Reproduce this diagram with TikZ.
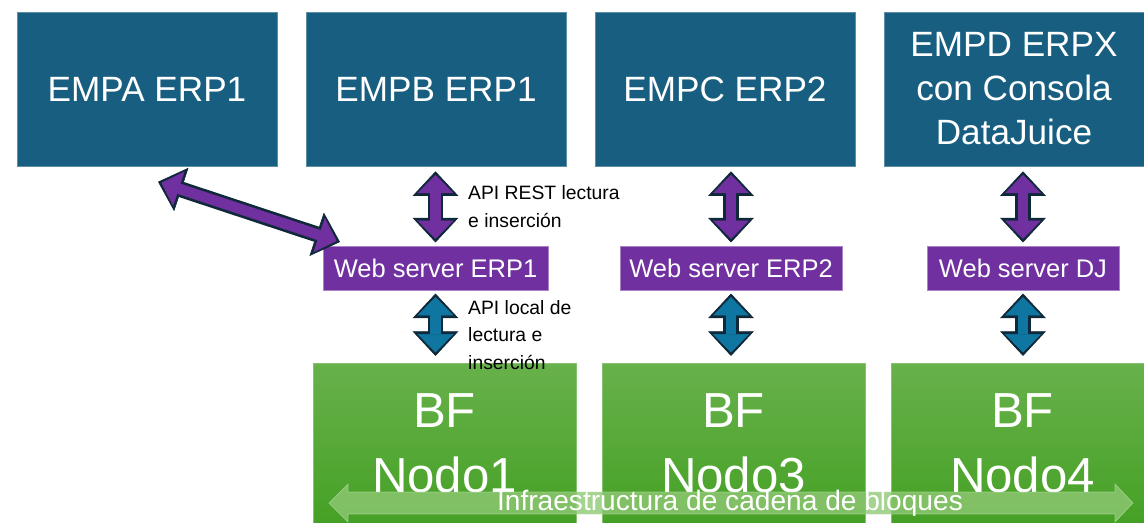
\documentclass[tikz,border=0pt]{standalone}
\usepackage{fontspec}
\setmainfont{Liberation Sans}
\usetikzlibrary{arrows.meta, positioning, calc}

\definecolor{erpblue}{HTML}{175E80}
\definecolor{wspurple}{HTML}{7030A0}
\definecolor{apiblue}{HTML}{0E76A0}
\definecolor{edgedark}{HTML}{10293A}
\definecolor{bftop}{HTML}{68B14B}
\definecolor{bfbot}{HTML}{45A125}
\definecolor{chainfill}{HTML}{8FC874}

\begin{document}
\begin{tikzpicture}[
    erp/.style={rectangle, fill=erpblue, draw=erpblue!70!white, text=white, minimum width=5.2cm, minimum height=3.08cm, align=center, font=\fontsize{20}{25}\selectfont, outer sep=3pt},
    web/.style={rectangle, fill=wspurple, draw=wspurple!60!white, text=white, minimum height=0.88cm, font=\fontsize{14.5}{17}\selectfont, outer sep=2pt},
    bf/.style={rectangle, top color=bftop, bottom color=bfbot, draw=bftop!80!white, text=white, minimum width=5.26cm, minimum height=3.2cm, align=center, font=\fontsize{28}{37}\selectfont, outer sep=4pt},
    note/.style={anchor=west, align=left, font=\fontsize{11}{15.5}\selectfont},
    purparrow/.style={
      preaction={draw=edgedark, line width=9pt, shorten <=0pt, shorten >=0pt,
        {Triangle[width=26pt,length=14pt,line width=0.4pt]}-{Triangle[width=26pt,length=14pt,line width=0.4pt]}},
      draw=#1, line width=6pt, shorten <=2pt, shorten >=2pt,
      {Triangle[width=20.5pt,length=10.5pt,line width=0.4pt]}-{Triangle[width=20.5pt,length=10.5pt,line width=0.4pt]}},
    purparrow/.default=wspurple
  ]
\useasboundingbox (0,0) rectangle (22.88,-10.44);

% Nodes
\node[erp] (empa) at (2.94,-1.78) {EMPA ERP1};
\node[erp] (empb) at (8.72,-1.78) {EMPB ERP1};
\node[erp] (empc) at (14.5,-1.78) {EMPC ERP2};
\node[erp] (empd) at (20.28,-1.78) {EMPD ERPX\\con Consola\\DataJuice};

\node[web, minimum width=4.5cm] (ws1) at (8.71,-5.36) {Web server ERP1};
\node[web, minimum width=4.44cm] (ws2) at (14.62,-5.36) {Web server ERP2};
\node[web, minimum width=3.84cm] (wsdj) at (20.46,-5.36) {Web server DJ};

\node[bf] (nodo1) at (8.89,-8.86) {BF\\Nodo1};
\node[bf] (nodo3) at (14.67,-8.86) {BF\\Nodo3};
\node[bf] (nodo4) at (20.45,-8.86) {BF\\Nodo4};

% Chain arrow
\fill[chainfill, fill opacity=0.8, draw=chainfill!60!white, draw opacity=0.6]
  (6.58,-10.06) -- (6.96,-9.68) -- (6.96,-9.84) -- (22.30,-9.84) -- (22.30,-9.68)
  -- (22.66,-10.06) -- (22.30,-10.44) -- (22.30,-10.28) -- (6.96,-10.28) -- (6.96,-10.44) -- cycle;
\node[text=white, font=\fontsize{16}{18}\selectfont] (infra) at (14.6,-10.06) {Infraestructura de cadena de bloques};

% Arrows
\coordinate (diagA) at ($(empa.south)+(0.22,-0.21)$);
\coordinate (diagB) at ($(ws1.north west)+(0.41,0.01)$);
\draw[purparrow] (diagA) -- (diagB);

\draw[purparrow] (empb.south -| ws1.north) -- (ws1.north);
\draw[purparrow] (empc.south -| ws2.north) -- (ws2.north);
\draw[purparrow] (empd.south -| wsdj.north) -- (wsdj.north);

\draw[purparrow=apiblue] (ws1.south) -- (nodo1.north -| ws1.south);
\draw[purparrow=apiblue] (ws2.south) -- (nodo3.north -| ws2.south);
\draw[purparrow=apiblue] (wsdj.south) -- (nodo4.north -| wsdj.south);

% Labels
\node[note] (restlbl) at (9.24,-4.13) {API REST lectura\\e inserción};
\node[note] (locallbl) at (9.24,-6.7) {API local de\\lectura e\\inserción};

\end{tikzpicture}
\end{document}
